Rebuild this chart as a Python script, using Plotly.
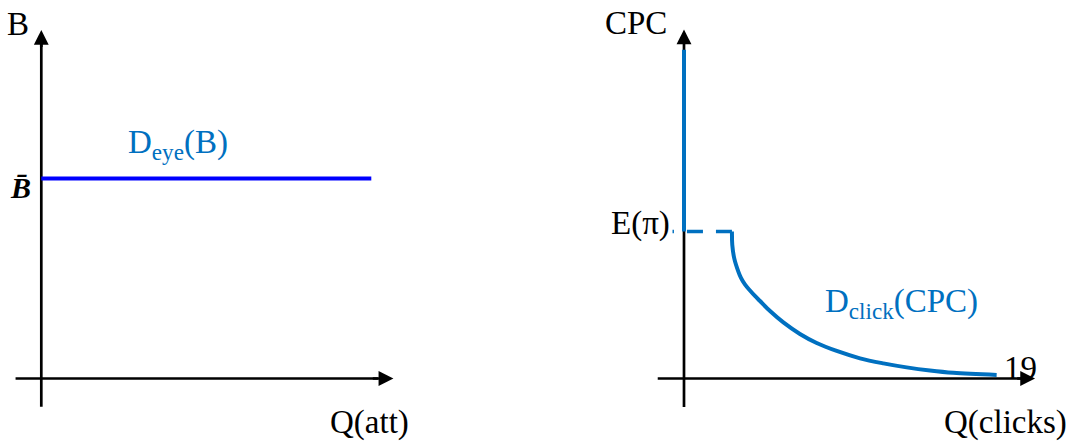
import plotly.graph_objects as go

# ---- data ----
# Left panel: eyeball demand, flat at B-bar
q_att = [0, 10]
b_level = [10, 10]

# Right panel: click demand
q_vertical = [0, 0]
cpc_vertical = [7, 15.65]
q_dash = [2.92, -0.7]
cpc_dash = [7, 7]
q_clicks = [2.92, 2.94, 3.06, 3.31, 3.47, 3.71, 4.02, 4.32, 4.63, 5.24, 6.05, 7.06,
            8.08, 9.30, 10.72, 12.14, 13.56, 14.98, 16.40, 19.04]
cpc_curve = [7.0, 6.36, 5.72, 5.09, 4.79, 4.48, 4.19, 3.93, 3.69, 3.21, 2.67, 2.12,
             1.69, 1.31, 0.96, 0.72, 0.53, 0.38, 0.27, 0.17]

FONT = "Liberation Serif"
FS = 33
BLUE = "#0070C0"

fig = go.Figure()

def axis_line(xa, ya, xs, ys):
    fig.add_trace(go.Scatter(x=xs, y=ys, mode="lines", line=dict(color="black", width=2.7),
                             xaxis=xa, yaxis=ya, hoverinfo="skip"))

# axis lines (drawn first so the curves sit on top)
axis_line("x", "y", [-0.78, 10.2], [0, 0])
axis_line("x", "y", [0, 0], [-1.41, 16.9])
axis_line("x2", "y2", [-1.6, 20.6], [0, 0])
axis_line("x2", "y2", [0, 0], [-1.36, 16.1])

# Left
fig.add_trace(go.Scatter(x=q_att, y=b_level, mode="lines",
                         line=dict(color="#0000FF", width=4.2),
                         xaxis="x", yaxis="y", hoverinfo="skip"))
# Right
fig.add_trace(go.Scatter(x=q_vertical, y=cpc_vertical, mode="lines",
                         line=dict(color=BLUE, width=4),
                         xaxis="x2", yaxis="y2", hoverinfo="skip"))
fig.add_trace(go.Scatter(x=q_dash, y=cpc_dash, mode="lines",
                         line=dict(color=BLUE, width=3.5, dash="16px,13px"),
                         xaxis="x2", yaxis="y2", hoverinfo="skip"))
fig.add_trace(go.Scatter(x=q_clicks, y=cpc_curve, mode="lines",
                         line=dict(color=BLUE, width=4, shape="spline", smoothing=1.0),
                         xaxis="x2", yaxis="y2", hoverinfo="skip"))

ann = []

def arrow(xr, yr, x, y, ax, ay):
    ann.append(dict(xref=xr, yref=yr, axref=xr, ayref=yr, x=x, y=y, ax=ax, ay=ay,
                    text="", showarrow=True, arrowhead=2, arrowsize=1.1,
                    arrowwidth=2.7, arrowcolor="black", standoff=0))

def label(xr, yr, x, y, text, color="black", size=FS, xanchor="center"):
    ann.append(dict(xref=xr, yref=yr, x=x, y=y, text=text, showarrow=False,
                    font=dict(family=FONT, size=size, color=color),
                    xanchor=xanchor, yanchor="middle"))

# arrow heads
arrow("x", "y", 10.67, 0, 10.0, 0)
arrow("x", "y", 0, 17.43, 0, 16.5)
arrow("x2", "y2", 21.38, 0, 20.2, 0)
arrow("x2", "y2", 0, 16.62, 0, 15.9)

label("x", "y", -0.72, 17.75, "B")
label("x", "y", -0.62, 9.55, "<b><i>B\u0304</i></b>", size=30)
label("x", "y", 4.13, 11.7, "D<sub>eye</sub>(B)", color=BLUE)
label("x", "y", 9.96, -2.2, "Q(att)")

label("x2", "y2", -2.95, 16.95, "CPC")
label("x2", "y2", -2.65, 7.4, "E(\u03c0)")
label("x2", "y2", 13.22, 3.55, "D<sub>click</sub>(CPC)", color=BLUE)
label("x2", "y2", 20.52, 0.5, "19")
label("x2", "y2", 19.55, -2.1, "Q(clicks)")

fig.update_layout(
    width=1073, height=441,
    margin=dict(l=0, r=0, t=0, b=0),
    paper_bgcolor="white", plot_bgcolor="white",
    showlegend=False,
    xaxis=dict(domain=[0, 0.5], range=[-1.2515, 15.006], visible=False, fixedrange=True),
    yaxis=dict(domain=[0, 1], range=[-3.125, 18.925], visible=False, fixedrange=True),
    xaxis2=dict(domain=[0.5, 1], range=[-8.983, 23.69], visible=False, fixedrange=True),
    yaxis2=dict(domain=[0, 1], range=[-2.976, 18.024], visible=False, anchor="x2", fixedrange=True),
    annotations=ann,
)

fig.write_html("out.html", config={"displayModeBar": False},
               post_script="document.body.style.margin='0px';document.body.style.overflow='hidden';")
